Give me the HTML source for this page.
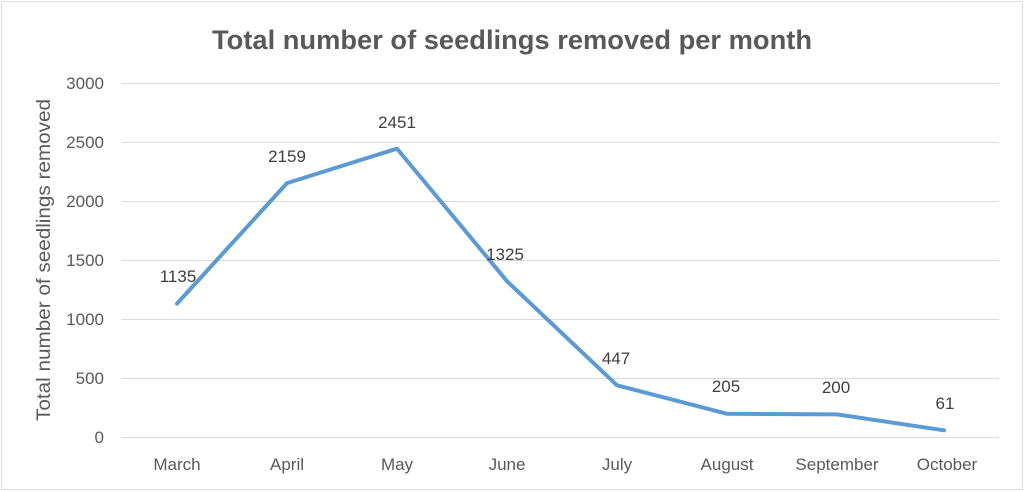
<!DOCTYPE html>
<html><head><style>
html,body{margin:0;padding:0;background:#fff;}
svg{display:block;}
text{font-family:"Liberation Sans",sans-serif;}
</style></head><body>
<svg width="1024" height="491" viewBox="0 0 1024 491">
<rect x="1.5" y="1.5" width="1021" height="488" fill="#fff" stroke="#d9d9d9"/>
<text x="512" y="49" text-anchor="middle" font-size="27" font-weight="bold" fill="#595959" textLength="600" lengthAdjust="spacingAndGlyphs">Total number of seedlings removed per month</text>
<g stroke="#d9d9d9" stroke-width="1">
<line x1="122" y1="83.5" x2="999" y2="83.5"/>
<line x1="122" y1="142.5" x2="999" y2="142.5"/>
<line x1="122" y1="201.5" x2="999" y2="201.5"/>
<line x1="122" y1="260.5" x2="999" y2="260.5"/>
<line x1="122" y1="319.5" x2="999" y2="319.5"/>
<line x1="122" y1="378.5" x2="999" y2="378.5"/>
<line x1="122" y1="437.5" x2="999" y2="437.5"/>
</g>
<g font-size="17" fill="#595959" text-anchor="end">
<text x="104" y="89">3000</text>
<text x="104" y="148">2500</text>
<text x="104" y="207">2000</text>
<text x="104" y="266">1500</text>
<text x="104" y="325">1000</text>
<text x="104" y="384">500</text>
<text x="104" y="443">0</text>
</g>
<text transform="translate(50,260) rotate(-90)" text-anchor="middle" font-size="19" fill="#595959" textLength="322" lengthAdjust="spacingAndGlyphs">Total number of seedlings removed</text>
<g font-size="17" fill="#595959" text-anchor="middle">
<text x="177" y="470">March</text>
<text x="287" y="470">April</text>
<text x="397" y="470">May</text>
<text x="507" y="470">June</text>
<text x="617" y="470">July</text>
<text x="727" y="470">August</text>
<text x="837" y="470">September</text>
<text x="947" y="470">October</text>
</g>
<polyline fill="none" stroke="#5b9bd5" stroke-width="4" stroke-linejoin="round" stroke-linecap="round"
points="177,303.6 287,183.1 397,148.6 507,281.2 617,385.3 727,413.8 837,414.4 944,430.3"/>
<g font-size="17" fill="#404040" text-anchor="middle">
<text x="178" y="282">1135</text>
<text x="287" y="162">2159</text>
<text x="397" y="128">2451</text>
<text x="505" y="260">1325</text>
<text x="616" y="364">447</text>
<text x="726" y="392">205</text>
<text x="836" y="393">200</text>
<text x="945" y="409">61</text>
</g>
</svg>
</body></html>
